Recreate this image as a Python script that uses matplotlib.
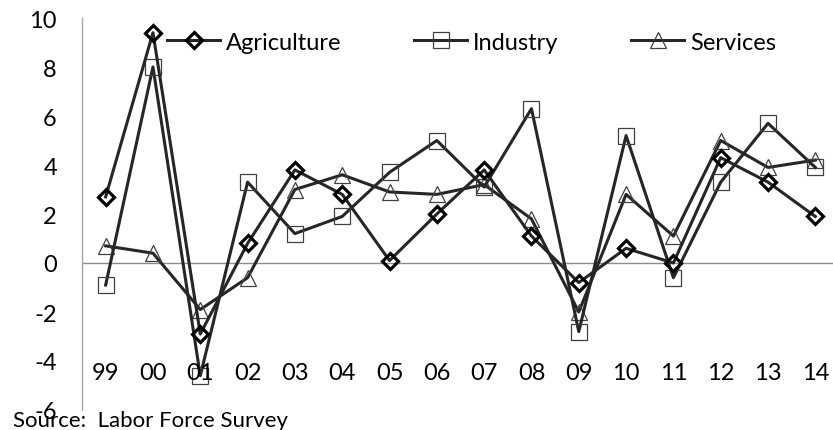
import matplotlib
matplotlib.use("Agg")
import matplotlib.pyplot as plt
from matplotlib.lines import Line2D

plt.rcParams['font.family'] = ['Lato', 'DejaVu Sans']

# Annual growth (%) by sector
years = ["99", "00", "01", "02", "03", "04", "05", "06", "07", "08",
         "09", "10", "11", "12", "13", "14"]
agriculture = [2.7, 9.4, -2.9, 0.8, 3.8, 2.8, 0.1, 2.0, 3.8, 1.1,
               -0.8, 0.6, 0.0, 4.3, 3.3, 1.9]
industry = [-0.9, 8.0, -4.6, 3.3, 1.2, 1.9, 3.7, 5.0, 3.1, 6.3,
            -2.8, 5.2, -0.6, 3.3, 5.7, 3.9]
services = [0.7, 0.4, -1.9, -0.6, 3.0, 3.6, 2.9, 2.8, 3.2, 1.8,
            -2.0, 2.8, 1.1, 5.0, 3.9, 4.2]
series_names = ["Agriculture", "Industry", "Services"]
yticks = [10, 8, 6, 4, 2, 0, -2, -4, -6]
ytick_labels = ["10", "8", "6", "4", "2", "0", "-2", "-4", "-6"]
source_text = "Source:  Labor Force Survey"

W, H = 833, 431
FS = 17
LINE = "#262626"

fig = plt.figure(figsize=(W / 100, H / 100), dpi=100)
ax = fig.add_axes([82 / W, 20 / H, 757 / W, 392 / H])
ax.set_xlim(-0.5, len(years) - 0.5)
ax.set_ylim(-6, 10)

styles = {
    "Agriculture": dict(marker="D", markersize=8.6, markerfacecolor="none",
                        markeredgecolor="black", markeredgewidth=2.3),
    "Industry": dict(marker="s", markersize=11, markerfacecolor="none",
                     markeredgecolor="#404040", markeredgewidth=0.9),
    "Services": dict(marker="^", markersize=11.5, markerfacecolor="none",
                     markeredgecolor="#404040", markeredgewidth=0.9),
}
data = {"Agriculture": agriculture, "Industry": industry, "Services": services}

x = list(range(len(years)))
ax.axhline(0, color="#8c8c8c", lw=1.0, zorder=1)
for z, name in zip((4, 3, 2), series_names):
    ax.plot(x, data[name], color=LINE, lw=2.2, zorder=z, clip_on=False,
            **styles[name])

# Axes styling
for s in ("top", "right", "bottom"):
    ax.spines[s].set_visible(False)
ax.spines["left"].set_color("#a6a6a6")
ax.spines["left"].set_linewidth(1.0)
ax.set_xticks([])
ax.set_yticks(yticks)
ax.set_yticklabels(ytick_labels)
ax.tick_params(axis="y", length=0, pad=18, labelsize=FS, labelcolor="black")

# Category labels drawn inside the plot area
for i, lab in enumerate(years):
    ax.text(i, -4.45, lab, ha="center", va="center", fontsize=FS, color="black")

# Legend entries along the top
legend_x = {"Agriculture": 167, "Industry": 414, "Services": 631}
for name in series_names:
    h = Line2D([], [], color=LINE, lw=2.2, **styles[name])
    fig.legend(handles=[h], labels=[name], loc="center left",
               bbox_to_anchor=(legend_x[name] / W, 1 - 43 / H),
               frameon=False, borderpad=0, borderaxespad=0,
               handlelength=38.2 / FS, handletextpad=0.25, fontsize=FS)

fig.text(13 / W, 4 / H, source_text, ha="left", va="baseline", fontsize=16)

fig.savefig("out.png", dpi=100)
